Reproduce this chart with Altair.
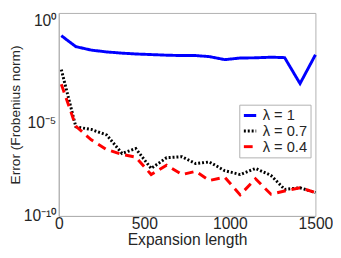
import altair as alt
import pandas as pd

x_vals = [15, 100, 190, 280, 370, 450, 540, 630, 720, 800, 880, 970, 1060, 1150, 1240, 1320, 1410, 1500]
log_l1 = [-1.12, -1.66, -1.83, -1.92, -1.98, -2.02, -2.05, -2.08, -2.10, -2.10, -2.15, -2.30, -2.22, -2.21, -2.18, -2.20, -3.48, -2.06]
log_l07 = [-2.79, -5.61, -5.74, -6.01, -6.92, -6.68, -7.66, -7.13, -7.08, -7.42, -7.34, -7.77, -7.96, -7.66, -8.00, -8.69, -8.61, -8.85]
log_l04 = [-3.51, -5.58, -6.25, -6.73, -6.97, -7.10, -7.96, -7.50, -7.96, -7.80, -8.25, -8.09, -8.96, -8.17, -8.93, -8.77, -8.61, -8.85]
series_names = ["λ = 1", "λ = 0.7", "λ = 0.4"]
series_colors = ["#0000FF", "#000000", "#FF0000"]
series_dash = [[1, 0], [2, 2], [9, 6]]

rows = []
for name, vals in zip(series_names, [log_l1, log_l07, log_l04]):
    for xv, lv in zip(x_vals, vals):
        rows.append({"x": xv, "err": 10 ** lv, "series": name})
df = pd.DataFrame(rows)

font = "Liberation Sans"
txt = "#262626"

legend_opts = dict(title=None, orient="none", legendX=185, legendY=94,
                   symbolType="stroke", symbolStrokeWidth=3, symbolSize=160,
                   labelFontSize=15, labelFont=font, labelColor=txt,
                   rowPadding=0, padding=3, strokeColor="#b0b0b0",
                   fillColor="white", labelOffset=5)

chart = alt.Chart(df).mark_line(strokeWidth=3).encode(
    x=alt.X("x:Q", scale=alt.Scale(domain=[0, 1500], nice=False),
            axis=alt.Axis(values=[0, 500, 1000, 1500], format="d", title="Expansion length",
                          grid=False, ticks=False, labelFontSize=16, titleFontSize=16,
                          labelFont=font, titleFont=font, labelColor=txt, titleColor=txt,
                          titleFontWeight="normal", domainColor="#b0b0b0", labelPadding=0,
                          titlePadding=0, labelFlush=False)),
    y=alt.Y("err:Q", scale=alt.Scale(type="log", domain=[1e-10, 1], nice=False),
            axis=alt.Axis(values=[1e-10, 1e-5, 1], title="Error (Frobenius norm)",
                          labelExpr="'10' + (datum.value >= 0.5 ? '⁰' : datum.value >= 1e-6 ? '⁻⁵' : '⁻¹⁰')",
                          labelBaseline={"condition": {"test": "datum.value >= 1e-6", "value": "top"},
                                         "value": "middle"},
                          grid=False, ticks=False, labelFontSize=16, titleFontSize=14,
                          labelFont=font, titleFont=font, labelColor=txt, titleColor=txt,
                          titleFontWeight="normal", domainColor="#b0b0b0", labelPadding=3,
                          titlePadding=0, labelFlush=False)),
    color=alt.Color("series:N", sort=series_names,
                    scale=alt.Scale(domain=series_names, range=series_colors),
                    legend=alt.Legend(**legend_opts)),
    strokeDash=alt.StrokeDash("series:N", sort=series_names,
                              scale=alt.Scale(domain=series_names, range=series_dash),
                              legend=alt.Legend(**legend_opts)),
).properties(
    width=263, height=208,
    autosize=alt.AutoSizeParams(type="none"),
    padding={"left": 52, "top": 2, "right": 18, "bottom": 40},
).configure_view(stroke="#b0b0b0", strokeWidth=1)

chart.save("out.html", embed_options={"renderer": "svg", "actions": False})
